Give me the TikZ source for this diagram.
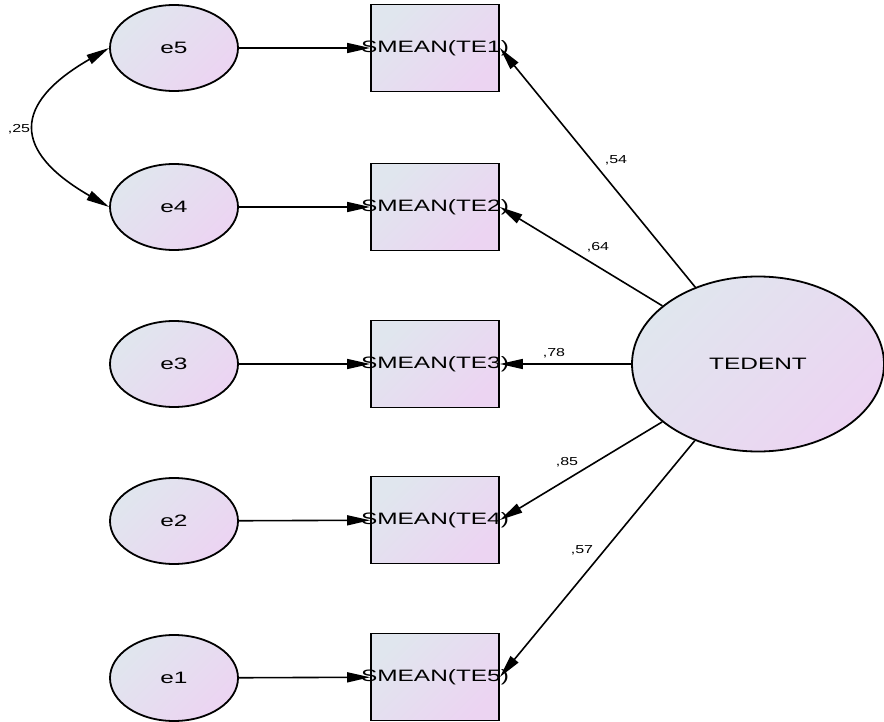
\documentclass[tikz,border=0pt]{standalone}
\usepackage{fontspec}
\setmainfont{Liberation Sans}
\usetikzlibrary{arrows.meta,shapes.geometric}
\definecolor{ca}{RGB}{224,230,238}
\definecolor{cb}{RGB}{236,212,242}
\newcommand{\wtxt}[1]{\scalebox{1.48}[1]{#1}}
\newcommand{\ltxt}[1]{\scalebox{1.38}[1]{#1}}
\begin{document}
\begin{tikzpicture}[x=1pt,y=1pt,
  grad/.style={top color=ca, bottom color=cb, shading angle=45},
  errnode/.style={ellipse, draw, line width=1.8pt, grad, minimum width=128pt, minimum height=86pt, inner sep=0pt, font=\fontsize{16.5}{18}\selectfont},
  latent/.style={ellipse, draw, line width=1.8pt, grad, minimum width=252pt, minimum height=175pt, inner sep=0pt, font=\fontsize{16.5}{18}\selectfont},
  obsbox/.style={rectangle, draw, line width=1.8pt, grad, minimum width=128pt, minimum height=87pt, inner sep=0pt, font=\fontsize{16.5}{18}\selectfont},
  arr/.style={line width=1.6pt, -{Triangle[length=23pt,width=10pt]}},
  dblarr/.style={line width=1.6pt, {Triangle[length=23pt,width=10pt]}-{Triangle[length=23pt,width=10pt]}},
  lbl/.style={inner sep=0pt, font=\fontsize{11.6}{13}\selectfont}
]
\useasboundingbox (0,-722) rectangle (884,0);
% error terms
\node[errnode] (e5) at (174,-48) {\wtxt{e5}};
\node[errnode] (e4) at (174,-207) {\wtxt{e4}};
\node[errnode] (e3) at (174,-364) {\wtxt{e3}};
\node[errnode] (e2) at (174,-521) {\wtxt{e2}};
\node[errnode] (e1) at (174,-678) {\wtxt{e1}};
% observed
\node[obsbox] (te1) at (435,-48) {\makebox[0pt]{\wtxt{SMEAN(TE1)}}};
\node[obsbox] (te2) at (435,-207) {\makebox[0pt]{\wtxt{SMEAN(TE2)}}};
\node[obsbox] (te3) at (435,-364) {\makebox[0pt]{\wtxt{SMEAN(TE3)}}};
\node[obsbox] (te4) at (435,-520) {\makebox[0pt]{\wtxt{SMEAN(TE4)}}};
\node[obsbox] (te5) at (435,-677) {\makebox[0pt]{\wtxt{SMEAN(TE5)}}};
% latent
\node[latent] (tedent) at (758,-364) {\wtxt{TEDENT}};
% error arrows
\draw[arr] (e5) -- (te1);
\draw[arr] (e4) -- (te2);
\draw[arr] (e3) -- (te3);
\draw[arr] (e2) -- (te4);
\draw[arr] (e1) -- (te5);
% loadings
\draw[arr] (tedent) -- (te1.east);
\draw[arr] (tedent) -- (te2.east);
\draw[arr] (tedent) -- (te3.east);
\draw[arr] (tedent) -- (te4.east);
\draw[arr] (tedent) -- (te5.east);
% covariance
\draw[dblarr] (e5.west) to[out=210, in=150, distance=112pt] (e4.west);
% labels
\node[lbl] (l54) at (616,-160) {\ltxt{,54}};
\node[lbl] (l64) at (598,-247) {\ltxt{,64}};
\node[lbl] (l78) at (554,-353) {\ltxt{,78}};
\node[lbl] (l85) at (567,-462) {\ltxt{,85}};
\node[lbl] (l57) at (582,-550) {\ltxt{,57}};
\node[lbl] (l25) at (19,-129) {\ltxt{,25}};
\end{tikzpicture}
\end{document}
